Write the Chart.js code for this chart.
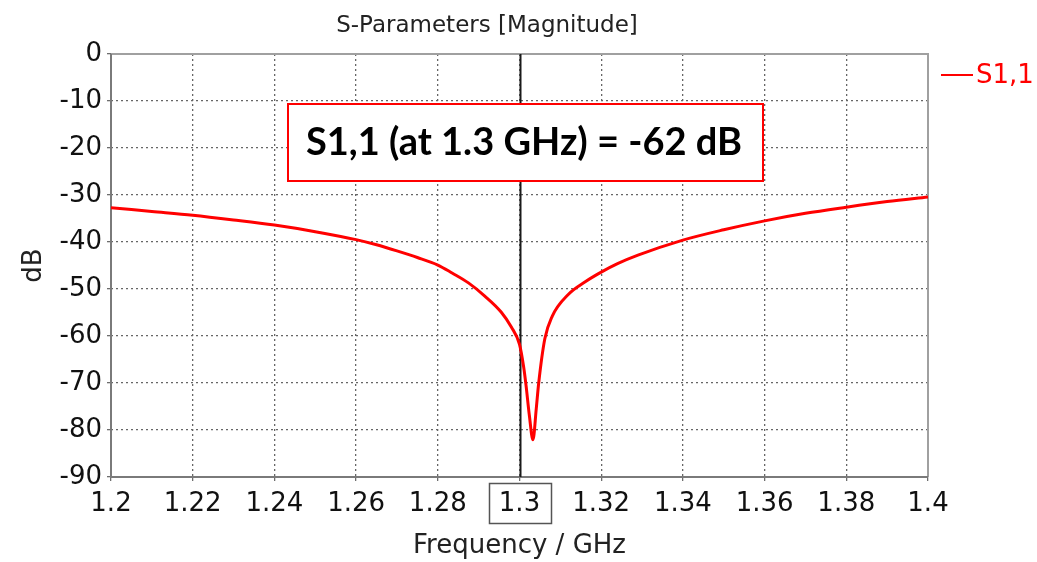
<!DOCTYPE html>
<html>
<head>
<meta charset="utf-8">
<script src="https://cdn.jsdelivr.net/npm/chart.js@4"></script>
<style>
  html, body { margin: 0; padding: 0; background: #fff; }
  canvas { display: block; }
</style>
</head>
<body>
<canvas id="sparam" width="1037" height="562"></canvas>
<script>
// S1,1 magnitude
const freqs = [1.2, 1.21, 1.22, 1.23, 1.24, 1.25, 1.26, 1.265, 1.27, 1.275, 1.28, 1.2835, 1.2875, 1.2915, 1.2955, 1.298, 1.3, 1.301, 1.3016, 1.3024, 1.3033, 1.3041, 1.3047, 1.3062, 1.308, 1.312, 1.316, 1.32, 1.324, 1.329, 1.34, 1.35, 1.36, 1.37, 1.38, 1.39, 1.4];
const s11 = [-32.7, -33.5, -34.3, -35.3, -36.4, -37.8, -39.5, -40.6, -41.9, -43.3, -44.9, -46.6, -48.7, -51.5, -54.9, -58.1, -61.8, -66.5, -70.5, -76.8, -82.1, -75.5, -70.0, -60.6, -55.8, -51.1, -48.5, -46.4, -44.6, -42.8, -39.6, -37.4, -35.5, -33.9, -32.6, -31.4, -30.4];
const xTicks = [1.2, 1.22, 1.24, 1.26, 1.28, 1.3, 1.32, 1.34, 1.36, 1.38, 1.4];
const yTicks = [0, -10, -20, -30, -40, -50, -60, -70, -80, -90];
const markerFreq = 1.3;
const annotationText = 'S1,1 (at 1.3 GHz) = -62 dB';

const FONT = "'DejaVu Sans', sans-serif";

const decorations = {
    id: 'decorations',
    beforeDatasetsDraw(chart) {
        const { ctx, chartArea: a, scales: { x } } = chart;
        ctx.save();
        // frame: light top/right, darker left/bottom
        ctx.lineWidth = 2;
        ctx.strokeStyle = '#a0a0a0';
        ctx.beginPath();
        ctx.moveTo(a.left, a.top);
        ctx.lineTo(a.right, a.top);
        ctx.lineTo(a.right, a.bottom);
        ctx.stroke();
        ctx.strokeStyle = '#7a7a7a';
        ctx.beginPath();
        ctx.moveTo(a.left, a.top);
        ctx.lineTo(a.left, a.bottom);
        ctx.lineTo(a.right, a.bottom);
        ctx.stroke();
        // marker line at 1.3 GHz
        const mx = Math.round(x.getPixelForValue(markerFreq)) + 0.5;
        ctx.strokeStyle = '#1a1a1a';
        ctx.lineWidth = 2;
        ctx.beginPath();
        ctx.moveTo(mx, a.top);
        ctx.lineTo(mx, a.bottom);
        ctx.stroke();
        ctx.restore();
    },
    afterDraw(chart) {
        const { ctx, scales: { x } } = chart;
        ctx.save();
        // title
        ctx.fillStyle = '#222';
        ctx.font = '23px ' + FONT;
        ctx.textAlign = 'center';
        ctx.textBaseline = 'middle';
        ctx.fillText('S-Parameters [Magnitude]', 487, 26);

        // legend
        ctx.strokeStyle = '#ff0000';
        ctx.lineWidth = 2;
        ctx.beginPath();
        ctx.moveTo(941, 75);
        ctx.lineTo(973, 75);
        ctx.stroke();
        ctx.fillStyle = '#ff0000';
        ctx.font = '26px ' + FONT;
        ctx.textAlign = 'left';
        ctx.fillText('S1,1', 976, 76);

        // annotation box
        ctx.fillStyle = '#fff';
        ctx.fillRect(288, 104, 475, 77);
        ctx.strokeStyle = '#ff0000';
        ctx.lineWidth = 2;
        ctx.strokeRect(288, 104, 475, 77);
        ctx.fillStyle = '#000';
        ctx.font = "bold 38px Lato, 'Open Sans', sans-serif";
        ctx.textAlign = 'center';
        ctx.fillText(annotationText, 524, 143);

        // box around the marker tick label
        const mx = x.getPixelForValue(markerFreq);
        ctx.strokeStyle = '#555';
        ctx.lineWidth = 1.5;
        ctx.strokeRect(Math.round(mx - 31) + 0.5, 483.5, 62, 40);
        ctx.restore();
    }
};

const gridOpts = {
    color: '#666',
    lineWidth: 1.3,
    tickLength: 4,
    tickColor: '#6e6e6e',
    tickBorderDash: []
};

new Chart(document.getElementById('sparam'), {
    type: 'line',
    data: {
        datasets: [{
            label: 'S1,1',
            data: freqs.map((f, i) => ({ x: f, y: s11[i] })),
            borderColor: '#ff0000',
            borderWidth: 3,
            pointRadius: 0,
            cubicInterpolationMode: 'monotone',
            fill: false
        }]
    },
    options: {
        responsive: false,
        animation: false,
        devicePixelRatio: 1,
        layout: { padding: { left: 0, top: 54, right: 109, bottom: 0 } },
        plugins: {
            legend: { display: false },
            title: { display: false },
            tooltip: { enabled: false }
        },
        scales: {
            x: {
                type: 'linear',
                min: 1.2,
                max: 1.4,
                afterBuildTicks: s => { s.ticks = xTicks.map(v => ({ value: v })); },
                afterFit: s => { s.height = 85; },
                border: { display: false, dash: [2, 3] },
                grid: gridOpts,
                ticks: {
                    autoSkip: false,
                    maxRotation: 0,
                    padding: 8,
                    color: '#111',
                    font: { family: FONT, size: 26 },
                    callback: v => String(parseFloat(v.toFixed(2)))
                },
                title: {
                    display: true,
                    text: 'Frequency / GHz',
                    color: '#222',
                    font: { family: FONT, size: 26 },
                    padding: { top: 0, bottom: 0 }
                }
            },
            y: {
                min: -90,
                max: 0,
                afterBuildTicks: s => { s.ticks = yTicks.map(v => ({ value: v })); },
                afterFit: s => { s.width = 111; },
                border: { display: false, dash: [2, 3] },
                grid: gridOpts,
                ticks: {
                    padding: 5,
                    color: '#111',
                    font: { family: FONT, size: 26 }
                },
                title: {
                    display: true,
                    text: 'dB',
                    color: '#222',
                    font: { family: FONT, size: 26 },
                    padding: { top: 19, bottom: 0 }
                }
            }
        }
    },
    plugins: [decorations]
});
</script>
</body>
</html>
